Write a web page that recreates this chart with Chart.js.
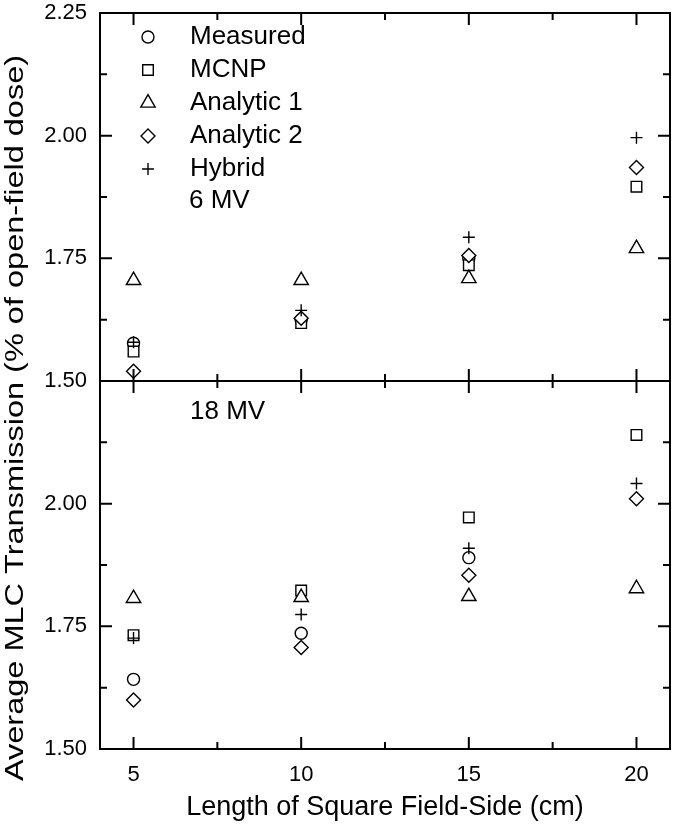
<!DOCTYPE html>
<html>
<head>
<meta charset="utf-8">
<title>Average MLC Transmission</title>
<script src="https://cdn.jsdelivr.net/npm/chart.js@4.4.1/dist/chart.umd.min.js"></script>
<style>
  body { margin: 0; background: #fff; }
  #wrap { width: 676px; height: 833px; }
</style>
</head>
<body>
<div id="wrap"><canvas id="mlcChart"></canvas></div>
<script>
// Field sizes (cm) and axis ticks
const fieldSides = [5, 10, 15, 20];
const xTicks = [5, 7.5, 10, 12.5, 15, 17.5, 20];
const yTicks = [1.5, 1.625, 1.75, 1.875, 2.0, 2.125, 2.25];

// 6 MV (top panel)
const measured6 = [1.577, 1.625, 1.750, null];
const mcnp6 = [1.560, 1.618, 1.736, 1.896];
const analytic1_6 = [1.705, 1.705, 1.709, 1.770];
const analytic2_6 = [1.520, 1.628, 1.756, 1.935];
const hybrid6 = [1.579, 1.644, 1.793, 1.996];

// 18 MV (bottom panel)
const measured18 = [1.642, 1.736, 1.890, null];
const mcnp18 = [1.732, 1.823, 1.972, 2.140];
const analytic1_18 = [1.807, 1.809, 1.811, 1.827];
const analytic2_18 = [1.600, 1.707, 1.854, 2.010];
const hybrid18 = [1.726, 1.774, 1.909, 2.041];

const seriesNames = ['Measured', 'MCNP', 'Analytic 1', 'Analytic 2', 'Hybrid'];
const values6 = [measured6, mcnp6, analytic1_6, analytic2_6, hybrid6];
const values18 = [measured18, mcnp18, analytic1_18, analytic2_18, hybrid18];

// marker look for each series
const markerStyles = ['circle', 'rect', 'triangle', 'rectRot', 'cross'];
const markerSizes = [6, 7.5, 8.3, 7, 6];

const FONT = 'Liberation Sans, Arial, Helvetica, sans-serif';

function toPoints(vals) {
  return fieldSides.map((x, i) => ({ x: x, y: vals[i] })).filter(p => p.y !== null);
}

const datasets = [];
seriesNames.forEach((name, i) => {
  const common = {
    pointStyle: markerStyles[i],
    pointRadius: markerSizes[i],
    pointHoverRadius: markerSizes[i],
    pointBorderWidth: 1.4,
    borderColor: '#000',
    backgroundColor: '#fff',
    showLine: false,
    order: seriesNames.length - i // later series drawn on top
  };
  datasets.push(Object.assign({ label: name + ' 6 MV', data: toPoints(values6[i]), yAxisID: 'y6' }, common));
  datasets.push(Object.assign({ label: name + ' 18 MV', data: toPoints(values18[i]), yAxisID: 'y18' }, common));
});

const isMajor = v => Math.abs(v * 4 - Math.round(v * 4)) < 1e-6;

// the frame is placed by layout padding, not by room for edge labels
function noEdgePadding(s) {
  s.paddingTop = 0; s.paddingBottom = 0; s.paddingLeft = 0; s.paddingRight = 0;
}

function yScale(showTop) {
  return {
    type: 'linear',
    position: 'left',
    stack: 'panels',
    stackWeight: 1,
    min: 1.5,
    max: 2.25,
    afterBuildTicks: s => { s.ticks = yTicks.map(v => ({ value: v })); },
    afterFit: s => { s.width = 100; noEdgePadding(s); },
    grid: { display: false, drawTicks: false },
    border: { display: false },
    ticks: {
      autoSkip: false,
      padding: 13,
      color: '#000',
      font: { family: FONT, size: 22 },
      callback: v => (isMajor(v) && (showTop || v < 2.2)) ? v.toFixed(2) : ''
    }
  };
}

// frame, inward ticks, legend, panel labels and axis titles
const framePlugin = {
  id: 'frame',
  afterDatasetsDraw(chart) {
    const { ctx, chartArea: a, scales } = chart;
    const mid = scales.y6.bottom;
    ctx.save();
    ctx.strokeStyle = '#000';
    ctx.lineWidth = 2;
    ctx.strokeRect(a.left, a.top, a.right - a.left, a.bottom - a.top);
    ctx.beginPath();
    ctx.moveTo(a.left, mid);
    ctx.lineTo(a.right, mid);
    xTicks.forEach(v => {
      const px = scales.x.getPixelForValue(v);
      const len = v % 5 === 0 ? 12 : 7;
      ctx.moveTo(px, a.top); ctx.lineTo(px, a.top + len);
      ctx.moveTo(px, a.bottom); ctx.lineTo(px, a.bottom - len);
      ctx.moveTo(px, mid - len); ctx.lineTo(px, mid + len);
    });
    [scales.y6, scales.y18].forEach(s => {
      yTicks.forEach(v => {
        const py = s.getPixelForValue(v);
        const len = isMajor(v) ? 12 : 7;
        ctx.moveTo(a.left, py); ctx.lineTo(a.left + len, py);
        ctx.moveTo(a.right, py); ctx.lineTo(a.right - len, py);
      });
    });
    ctx.stroke();

    // legend
    ctx.fillStyle = '#000';
    ctx.font = '26px ' + FONT;
    ctx.textBaseline = 'middle';
    ctx.textAlign = 'left';
    seriesNames.forEach((name, i) => {
      const ly = a.top + 24 + i * 33;
      ctx.save();
      ctx.fillStyle = '#fff';
      ctx.strokeStyle = '#000';
      ctx.lineWidth = 1.4;
      Chart.helpers.drawPoint(ctx, { pointStyle: markerStyles[i], radius: markerSizes[i], rotation: 0, borderWidth: 1.4 }, a.left + 48, ly);
      ctx.restore();
      ctx.fillText(name, a.left + 90, ly);
    });
    ctx.fillText('6 MV', a.left + 89, a.top + 188);
    ctx.fillText('18 MV', a.left + 90, mid + 31);

    // x title
    ctx.font = '27px ' + FONT;
    ctx.textAlign = 'center';
    ctx.fillText('Length of Square Field-Side (cm)', (a.left + a.right) / 2, 808);

    // y title, stretched along its length like the original figure
    ctx.save();
    ctx.translate(16, 418);
    ctx.rotate(-Math.PI / 2);
    ctx.scale(1.25, 1);
    ctx.font = '26px ' + FONT;
    ctx.fillText('Average MLC Transmission (% of open-field dose)', 0, 0);
    ctx.restore();
    ctx.restore();
  }
};

new Chart(document.getElementById('mlcChart').getContext('2d'), {
  type: 'scatter',
  data: { datasets: datasets },
  options: {
    responsive: true,
    maintainAspectRatio: false,
    devicePixelRatio: 1,
    animation: false,
    layout: { autoPadding: false, padding: { left: 0, right: 6, top: 13, bottom: 0 } },
    plugins: {
      legend: { display: false },
      tooltip: { enabled: false }
    },
    scales: {
      x: {
        type: 'linear',
        min: 4,
        max: 21,
        afterBuildTicks: s => { s.ticks = xTicks.map(v => ({ value: v })); },
        afterFit: s => { s.height = 84; noEdgePadding(s); },
        grid: { display: false, drawTicks: false },
        border: { display: false },
        ticks: {
          autoSkip: false,
          maxRotation: 0,
          padding: 13,
          color: '#000',
          font: { family: FONT, size: 22 },
          callback: v => v % 5 === 0 ? String(v) : ''
        }
      },
      y18: yScale(false),
      y6: yScale(true)
    }
  },
  plugins: [framePlugin]
});
</script>
</body>
</html>
